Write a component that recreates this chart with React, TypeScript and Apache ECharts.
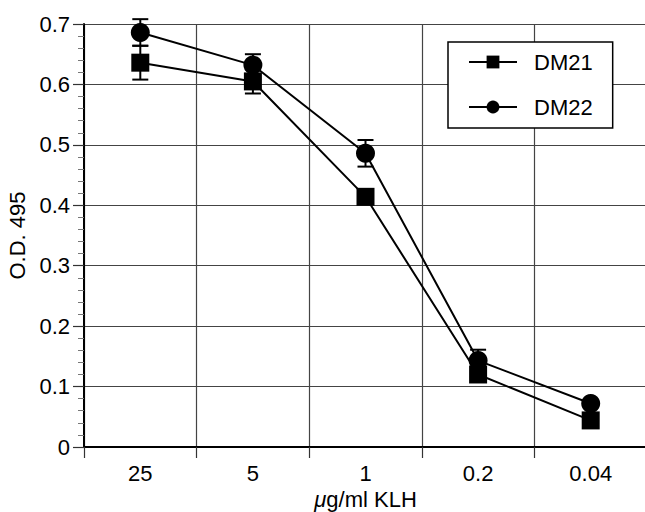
import React, { useEffect, useRef } from "react";
import * as echarts from "echarts";

const categories = ["25", "5", "1", "0.2", "0.04"];
const dm21 = [0.636, 0.605, 0.414, 0.12, 0.044];
const dm21Err = [0.028, 0.02, 0, 0, 0];
const dm22 = [0.686, 0.632, 0.486, 0.143, 0.072];
const dm22Err = [0.022, 0.018, 0.022, 0.018, 0];
const yTicks = [0, 0.1, 0.2, 0.3, 0.4, 0.5, 0.6, 0.7];

const FONT = "'Liberation Sans', Arial, Helvetica, sans-serif";

function errData(vals: number[], errs: number[]) {
  return vals
    .map((v, i) => [i, v - errs[i], v + errs[i]])
    .filter((d, i) => errs[i] > 0);
}

function errorSeries(vals: number[], errs: number[]) {
  return {
    type: "custom",
    data: errData(vals, errs),
    encode: { x: 0, y: [1, 2] },
    z: 1,
    silent: true,
    renderItem: (params: any, api: any) => {
      const x = api.value(0);
      const lo = api.coord([x, api.value(1)]);
      const hi = api.coord([x, api.value(2)]);
      const w = 8;
      const style = { stroke: "#000", lineWidth: 2 };
      return {
        type: "group",
        children: [
          { type: "line", shape: { x1: lo[0], y1: lo[1], x2: hi[0], y2: hi[1] }, style },
          { type: "line", shape: { x1: lo[0] - w, y1: lo[1], x2: lo[0] + w, y2: lo[1] }, style },
          { type: "line", shape: { x1: hi[0] - w, y1: hi[1], x2: hi[0] + w, y2: hi[1] }, style },
        ],
      };
    },
  };
}

export default function App() {
  const ref = useRef<HTMLDivElement>(null);
  useEffect(() => {
    if (!ref.current) return;
    const chart = echarts.init(ref.current, null, { renderer: "svg" });
    chart.setOption({
      animation: false,
      backgroundColor: "#fff",
      textStyle: { fontFamily: FONT, color: "#000" },
      grid: { left: 84, right: -2, top: 24, bottom: 65, containLabel: false, outerBoundsMode: "none" },
      legend: {
        data: ["DM21", "DM22"],
        orient: "vertical",
        left: 448,
        top: 42,
        width: 168,
        backgroundColor: "#fff",
        borderColor: "#000",
        borderWidth: 1.5,
        borderRadius: 0,
        padding: [9, 20, 10, 20],
        itemGap: 23,
        itemWidth: 48,
        itemHeight: 16,
        textStyle: { fontSize: 22, color: "#000", fontFamily: FONT, padding: [0, 0, 0, 12] },
        selectedMode: false,
      },
      xAxis: {
        type: "category",
        data: categories,
        boundaryGap: true,
        name: "{i|μ}g/ml KLH",
        nameLocation: "middle",
        nameGap: 41,
        nameTextStyle: {
          fontSize: 22,
          fontFamily: FONT,
          color: "#000",
          rich: { i: { fontStyle: "italic", fontSize: 22, fontFamily: FONT, color: "#000" } },
        },
        axisLine: { lineStyle: { color: "#000", width: 2 } },
        axisTick: { show: true, length: 11, lineStyle: { color: "#333", width: 1.2 } },
        axisLabel: { fontSize: 22, color: "#000", margin: 15, fontFamily: FONT },
        splitLine: { show: true, lineStyle: { color: "#444", width: 1.2 } },
      },
      yAxis: {
        type: "value",
        min: yTicks[0],
        max: yTicks[yTicks.length - 1],
        interval: 0.1,
        name: "O.D. 495",
        nameLocation: "middle",
        nameGap: 56,
        nameTextStyle: { fontSize: 22, fontFamily: FONT, color: "#000" },
        axisLine: { show: true, lineStyle: { color: "#000", width: 2 } },
        axisTick: { show: true, length: 11, lineStyle: { color: "#333", width: 1.2 } },
        minorTick: { show: true, splitNumber: 5, length: 6, lineStyle: { color: "#777", width: 1 } },
        axisLabel: { fontSize: 22, color: "#000", margin: 14, fontFamily: FONT },
        splitLine: { show: true, lineStyle: { color: "#444", width: 1.2 } },
      },
      series: [
        errorSeries(dm21, dm21Err),
        errorSeries(dm22, dm22Err),
        {
          name: "DM21",
          type: "line",
          data: dm21,
          symbol: "rect",
          symbolSize: 18,
          z: 3,
          lineStyle: { color: "#000", width: 2 },
          itemStyle: { color: "#000" },
        },
        {
          name: "DM22",
          type: "line",
          data: dm22,
          symbol: "circle",
          symbolSize: 19,
          z: 3,
          lineStyle: { color: "#000", width: 2 },
          itemStyle: { color: "#000" },
        },
      ],
    });
    return () => chart.dispose();
  }, []);
  return (
    <div
      ref={ref}
      style={{ position: "absolute", left: 0, top: 0, width: 645, height: 512 }}
    />
  );
}
